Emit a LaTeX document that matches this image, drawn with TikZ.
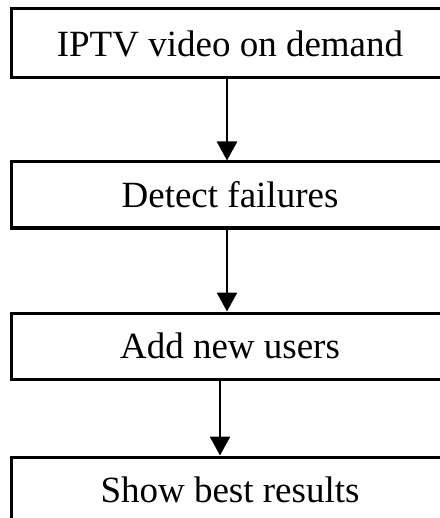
\documentclass[tikz,border=0pt]{standalone}
\usepackage{fontspec}
\setmainfont{Liberation Serif}
\usetikzlibrary{arrows.meta}

\tikzset{
    stepbox/.style={draw, line width=3pt, rectangle, minimum width=438pt,
        minimum height=67pt, inner sep=0pt, font=\fontsize{37}{44}\selectfont},
    flow/.style={line width=2.6pt, -{Triangle[length=19pt,width=20pt]}}
}

\begin{document}
\begin{tikzpicture}[x=1pt,y=-1pt]
    \useasboundingbox (0,0) rectangle (439,518);
    % Boxes
    \node[stepbox, minimum height=69pt] (iptv) at (230,43.5) {IPTV video on demand};
    \node[stepbox, minimum height=66pt] (detect) at (230,195) {Detect failures};
    \node[stepbox, minimum height=66pt] (add) at (230,346) {Add new users};
    \node[stepbox, minimum height=66pt] (show) at (230,490) {Show best results};
    % Arrows
    \draw[flow] ([xshift=-3pt]iptv.south) -- ([xshift=-3pt]detect.north);
    \draw[flow] ([xshift=-3pt]detect.south) -- ([xshift=-3pt]add.north);
    \draw[flow] ([xshift=-10pt]add.south) -- ([xshift=-10pt]show.north);
\end{tikzpicture}
\end{document}
